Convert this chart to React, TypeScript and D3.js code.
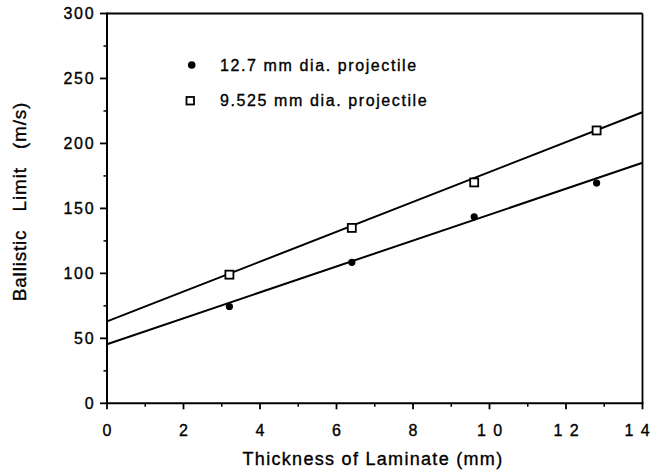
import React from "react";
import * as d3 from "d3";

const thickness = [3.2, 6.4, 9.6, 12.8];
const limit127 = [74.5, 108.5, 143.5, 169.5];
const limit9525 = [99, 135, 170, 210];
const fitIntercepts = [45.5, 63];
const fitSlopes = [9.97, 11.5];
const seriesNames = ["12.7 mm dia. projectile", "9.525 mm dia. projectile"];
const xTicks = [0, 2, 4, 6, 8, 10, 12, 14];
const xTickLabels = ["0", "2", "4", "6", "8", "1 0", "1 2", "1 4"];
const xMinor = [1, 3, 5, 7, 9, 11, 13];
const yTicks = [0, 50, 100, 150, 200, 250, 300];
const yMinor = [25, 75, 125, 175, 225, 275];

const W = 654, H = 474;
const L = 107, R = 642.5, T = 13.5, B = 403.3;
const FONT = "'Liberation Sans', Arial, Helvetica, sans-serif";
const TXT = { fill: "#000", stroke: "#000", strokeWidth: 0.35 };

export default function App() {
  const x = d3.scaleLinear().domain([0, 14]).range([L, R]);
  const y = d3.scaleLinear().domain([0, 300]).range([B, T]);
  const line = d3.line<[number, number]>().x(d => x(d[0])).y(d => y(d[1]));
  const fits = fitIntercepts.map((b, i) => [[0, b], [14, b + fitSlopes[i] * 14]] as [number, number][]);
  return (
    <svg width={W} height={H} style={{ position: "absolute", left: 0, top: 0, background: "#fff" }} fontFamily={FONT}>
      <rect width={W} height={H} fill="#fff" />
      {/* frame */}
      <line x1={L} x2={R} y1={T} y2={T} stroke="#000" strokeWidth={1.8} />
      <line x1={R} x2={R} y1={T} y2={B} stroke="#000" strokeWidth={1.8} />
      <line x1={L} x2={R + 1} y1={B} y2={B} stroke="#000" strokeWidth={2} />
      <line x1={L} x2={L} y1={T - 1} y2={B} stroke="#000" strokeWidth={2} />
      {/* x ticks */}
      {xTicks.map((t, i) => (
        <g key={"xt" + t}>
          <line x1={x(t)} x2={x(t)} y1={B} y2={B + 6} stroke="#000" strokeWidth={1.8} />
          <text x={Math.min(x(t), 637) + (xTickLabels[i].length > 1 ? 0.75 : 0)} y={435.5} textAnchor="middle" fontSize={16} letterSpacing={xTickLabels[i].length > 1 ? 1.5 : 0} {...TXT}>{xTickLabels[i]}</text>
        </g>
      ))}
      {xMinor.map(t => (
        <line key={"xm" + t} x1={x(t)} x2={x(t)} y1={B} y2={B + 3.5} stroke="#000" strokeWidth={1.5} />
      ))}
      {/* y ticks */}
      {yTicks.map(t => (
        <g key={"yt" + t}>
          <line x1={L - 7} x2={L} y1={y(t)} y2={y(t)} stroke="#000" strokeWidth={1.8} />
          <text x={95.5} y={y(t) + 5.5} textAnchor="end" fontSize={16} letterSpacing={1.8} {...TXT}>{t}</text>
        </g>
      ))}
      {yMinor.map(t => (
        <line key={"ym" + t} x1={L - 3.5} x2={L} y1={y(t)} y2={y(t)} stroke="#000" strokeWidth={1.5} />
      ))}
      {/* axis titles */}
      <text x={373} y={465} textAnchor="middle" fontSize={18} letterSpacing={1.3} {...TXT}>Thickness of Laminate (mm)</text>
      <text transform={`translate(26,${201.5}) rotate(-90)`} textAnchor="middle" fontSize={19} letterSpacing={0.8} {...TXT} style={{ whiteSpace: "pre" }}>{"Ballistic   Limit   (m/s)"}</text>
      {/* fit lines */}
      {fits.map((f, i) => (
        <path key={"fit" + i} d={line(f) || ""} fill="none" stroke="#000" strokeWidth={2} />
      ))}
      {/* points */}
      {thickness.map((t, i) => (
        <circle key={"c" + i} cx={x(t)} cy={y(limit127[i])} r={3.6} fill="#000" />
      ))}
      {thickness.map((t, i) => (
        <rect key={"s" + i} x={x(t) - 4} y={y(limit9525[i]) - 4} width={8} height={8} fill="#fff" stroke="#000" strokeWidth={1.8} />
      ))}
      {/* legend */}
      <circle cx={191.7} cy={65} r={3.8} fill="#000" />
      <text x={220} y={70.5} fontSize={16} letterSpacing={1.6} {...TXT}>{seriesNames[0]}</text>
      <rect x={186.5} y={97} width={7.5} height={7.5} fill="#fff" stroke="#000" strokeWidth={1.8} />
      <text x={220} y={105.5} fontSize={16} letterSpacing={1.6} {...TXT}>{seriesNames[1]}</text>
    </svg>
  );
}
